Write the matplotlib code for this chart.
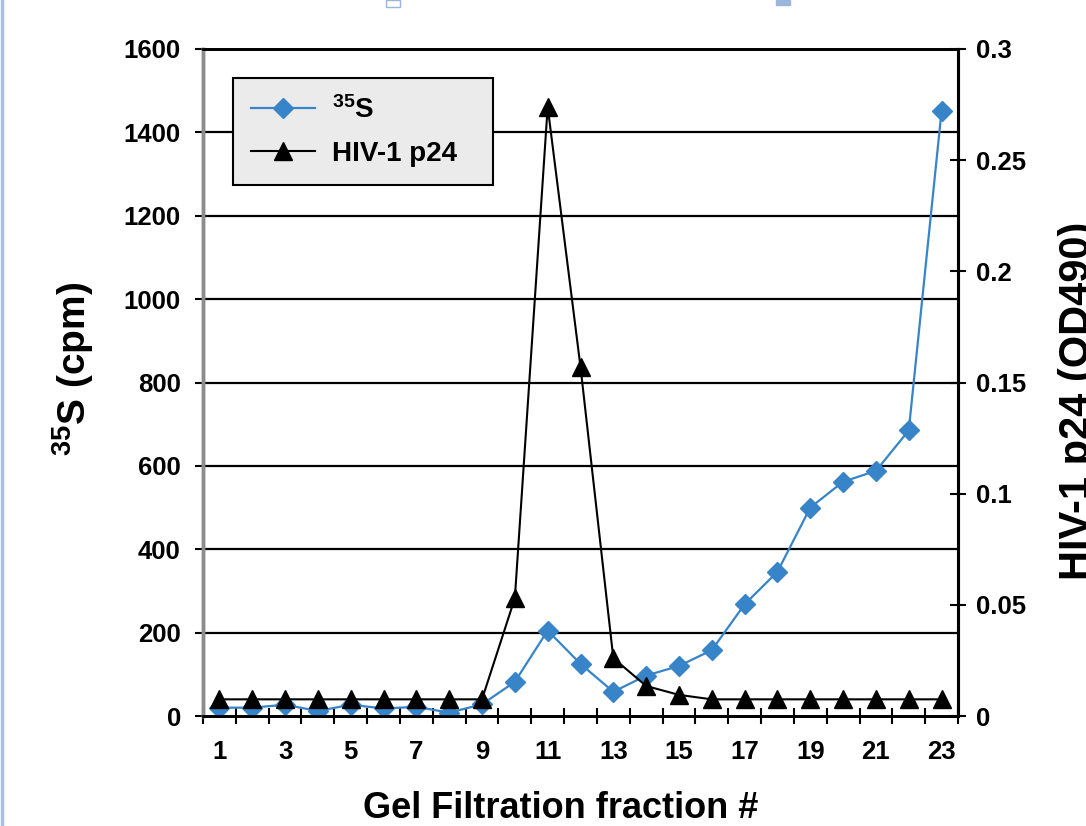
import matplotlib
matplotlib.use("Agg")
import matplotlib.pyplot as plt
from matplotlib import font_manager
from matplotlib.lines import Line2D
from matplotlib.patches import Rectangle

# ---------------- data ----------------
fractions = list(range(1, 24))
s35_cpm = [20, 20, 27, 12, 27, 18, 22, 8, 28, 82, 205, 125, 58, 97, 120, 158,
           268, 346, 500, 562, 588, 685, 1452]
p24_od490 = [0.0075, 0.0075, 0.0075, 0.0075, 0.0075, 0.0075, 0.0075, 0.0075,
             0.0075, 0.053, 0.274, 0.157, 0.026, 0.0135, 0.0095, 0.0075,
             0.0075, 0.0075, 0.0075, 0.0075, 0.0075, 0.0075, 0.0075]
left_ticks = [0, 200, 400, 600, 800, 1000, 1200, 1400, 1600]
right_ticks = [0, 0.05, 0.1, 0.15, 0.2, 0.25, 0.3]
right_labels = ["0", "0.05", "0.1", "0.15", "0.2", "0.25", "0.3"]
x_label_positions = list(range(1, 24, 2))
label_s35 = r"$^{35}$S"
label_p24 = "HIV-1 p24"
xlabel = "Gel Filtration fraction #"
ylabel_left = r"$^{35}$S (cpm)"
ylabel_right = "HIV-1 p24 (OD490)"

# ---------------- fonts ----------------
def has_font(name):
    try:
        font_manager.findfont(font_manager.FontProperties(family=name),
                              fallback_to_default=False)
        return True
    except Exception:
        return False

NARROW_OK = has_font("Liberation Sans Narrow")
NARROW = "Liberation Sans Narrow" if NARROW_OK else "Liberation Sans"
WIDE = "Liberation Sans"
plt.rcParams["font.family"] = [WIDE, "DejaVu Sans"]
plt.rcParams["font.weight"] = "bold"
plt.rcParams["mathtext.default"] = "regular"

TICK_SIZE = 20 if NARROW_OK else 18.5
XLABEL_SIZE = 29 if NARROW_OK else 26
LEG_SIZE = 22 if NARROW_OK else 20

BLUE = "#3784c8"

W, H = 1086, 826
fig = plt.figure(figsize=(W / 100, H / 100), dpi=100)
fx = lambda px: px / W
fy = lambda py: 1 - py / H

ax_l, ax_r, ax_t, ax_b = 203, 958, 49, 716
ax = fig.add_axes([fx(ax_l), fy(ax_b), fx(ax_r) - fx(ax_l), fy(ax_t) - fy(ax_b)])
ax2 = ax.twinx()

# left axis series
ax.plot(fractions, s35_cpm, color=BLUE, lw=1.6, marker="D", markersize=10,
        markerfacecolor=BLUE, markeredgecolor=BLUE, label=label_s35, zorder=3)
ax.set_ylim(0, 1600)
ax.set_xlim(0.5, 23.5)
ax.set_yticks(left_ticks)
ax.set_yticklabels([str(v) for v in left_ticks])
for v in left_ticks[1:]:
    ax.axhline(v, color="black", lw=1.6, zorder=1)

# right axis series
ax2.plot(fractions, p24_od490, color="black", lw=1.5, marker="^", markersize=13.5,
         markerfacecolor="black", markeredgecolor="black", label=label_p24, zorder=3)
ax2.set_ylim(0, 0.3)
ax2.set_yticks(right_ticks)
ax2.set_yticklabels(right_labels)

# x ticks: marks at category boundaries, labels at odd fractions
ax.set_xticks([i + 0.5 for i in range(0, 24)])
ax.set_xticklabels([])
ax.set_xticks(x_label_positions, minor=True)
ax.set_xticklabels([str(v) for v in x_label_positions], minor=True)
ax.tick_params(axis="x", which="major", direction="inout", length=11, width=1.5,
               color="black")
ax.tick_params(axis="x", which="minor", length=0, pad=17)
ax.tick_params(axis="y", which="major", direction="out", length=6, width=1.5,
               color="black", pad=10)
ax2.tick_params(axis="y", which="major", direction="inout", length=12, width=1.5,
                color="black", pad=7)
ax2.tick_params(axis="x", which="both", length=0)

for lab in ax.get_yticklabels() + ax.get_xticklabels(minor=True) + ax2.get_yticklabels():
    lab.set_fontfamily([NARROW, "DejaVu Sans"])
    lab.set_fontweight("bold")
    lab.set_fontsize(TICK_SIZE)

# spines
for a in (ax, ax2):
    a.spines["top"].set_color("black")
    a.spines["top"].set_linewidth(2)
    a.spines["bottom"].set_color("black")
    a.spines["bottom"].set_linewidth(2)
    a.spines["right"].set_color("black")
    a.spines["right"].set_linewidth(2.2)
    a.spines["left"].set_color("#8c8c8c")
    a.spines["left"].set_linewidth(2.5)

# axis labels (placed in figure pixels)
fig.text(fx(561), fy(825.5), xlabel, ha="center", va="bottom",
         fontsize=XLABEL_SIZE, fontweight="bold", family=[NARROW, "DejaVu Sans"])
fig.text(fx(86), fy(369), ylabel_left, rotation=90, rotation_mode="anchor",
         ha="center", va="baseline", fontsize=28, fontweight="bold",
         family=[WIDE, "DejaVu Sans"])
fig.text(fx(1089), fy(401), ylabel_right, rotation=90, rotation_mode="anchor",
         ha="center", va="baseline", fontsize=30, fontweight="bold",
         family=[WIDE, "DejaVu Sans"])

# legend
h1, l1 = ax.get_legend_handles_labels()
h2, l2 = ax2.get_legend_handles_labels()
leg_x0, leg_y0, leg_x1, leg_y1 = 233, 78, 493, 187
leg = ax2.legend(h1 + h2, l1 + l2,
                 bbox_to_anchor=(fx(leg_x0), fy(leg_y1), fx(leg_x1) - fx(leg_x0),
                                 fy(leg_y0) - fy(leg_y1)),
                 bbox_transform=fig.transFigure, loc="upper left", mode="expand",
                 borderaxespad=0, fancybox=False, framealpha=1, frameon=True,
                 facecolor="#ebebeb", edgecolor="black", numpoints=1,
                 handlelength=2.3, handletextpad=0.6, borderpad=0.65,
                 labelspacing=0.6,
                 prop=font_manager.FontProperties(family=[NARROW, "DejaVu Sans"],
                                                  weight="bold", size=LEG_SIZE))
leg.get_frame().set_linewidth(1.5)
leg.set_zorder(10)

# decorations from the original screenshot
fig.add_artist(Line2D([fx(1.5), fx(1.5)], [0, 1], color="#a7c0e6", lw=2.5))
fig.add_artist(Rectangle((fx(386), fy(7)), fx(14), fy(0) - fy(7),
                         transform=fig.transFigure, facecolor="white",
                         edgecolor="#9ab6dc", lw=1))
fig.add_artist(Rectangle((fx(776), fy(5)), fx(14), fy(0) - fy(5),
                         transform=fig.transFigure, facecolor="#9ab6dc",
                         edgecolor="#9ab6dc", lw=1))

fig.savefig("out.png", dpi=100)
